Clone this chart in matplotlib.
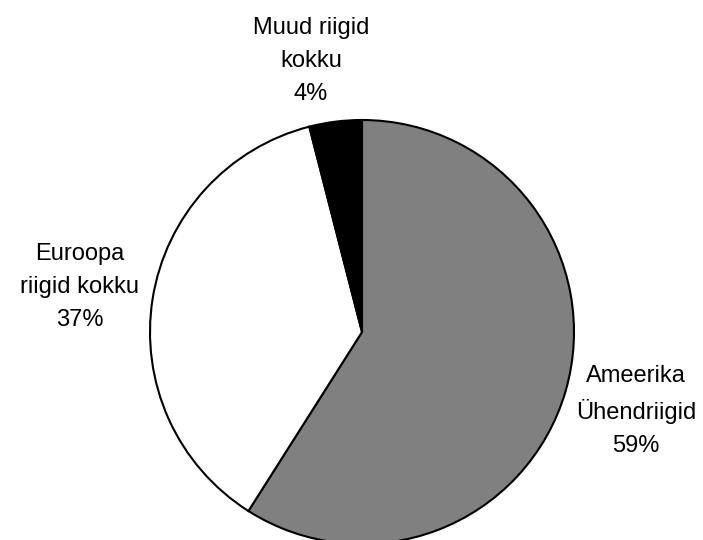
import matplotlib
matplotlib.use("Agg")
import matplotlib.pyplot as plt

# andmed
labels = ["Ameerika\nÜhendriigid", "Euroopa\nriigid kokku", "Muud riigid\nkokku"]
shares = [59, 37, 4]
colors = ["#808080", "#ffffff", "#000000"]

# sildi asukohad pikslites (x, y ülevalt)
label_pos = [(636, 411), (80, 287), (311, 61)]

plt.rcParams['font.family'] = ['Liberation Sans', 'DejaVu Sans']

W, H = 703, 540
fig = plt.figure(figsize=(W / 100, H / 100), dpi=100)
ax = fig.add_axes([0, 0, 1, 1])

ax.pie(shares, colors=colors, startangle=90, counterclock=False,
       center=(362, H - 332), radius=212,
       wedgeprops=dict(edgecolor='black', linewidth=1.5), frame=True)
ax.set_xlim(0, W)
ax.set_ylim(0, H)
ax.set_aspect('equal')
ax.axis('off')

for lab, val, (px, py) in zip(labels, shares, label_pos):
    ax.text(px, H - py, f"{lab}\n{val}%", ha='center', va='center',
            fontsize=17, linespacing=1.62, color='black')

fig.savefig("out.png", dpi=100)
